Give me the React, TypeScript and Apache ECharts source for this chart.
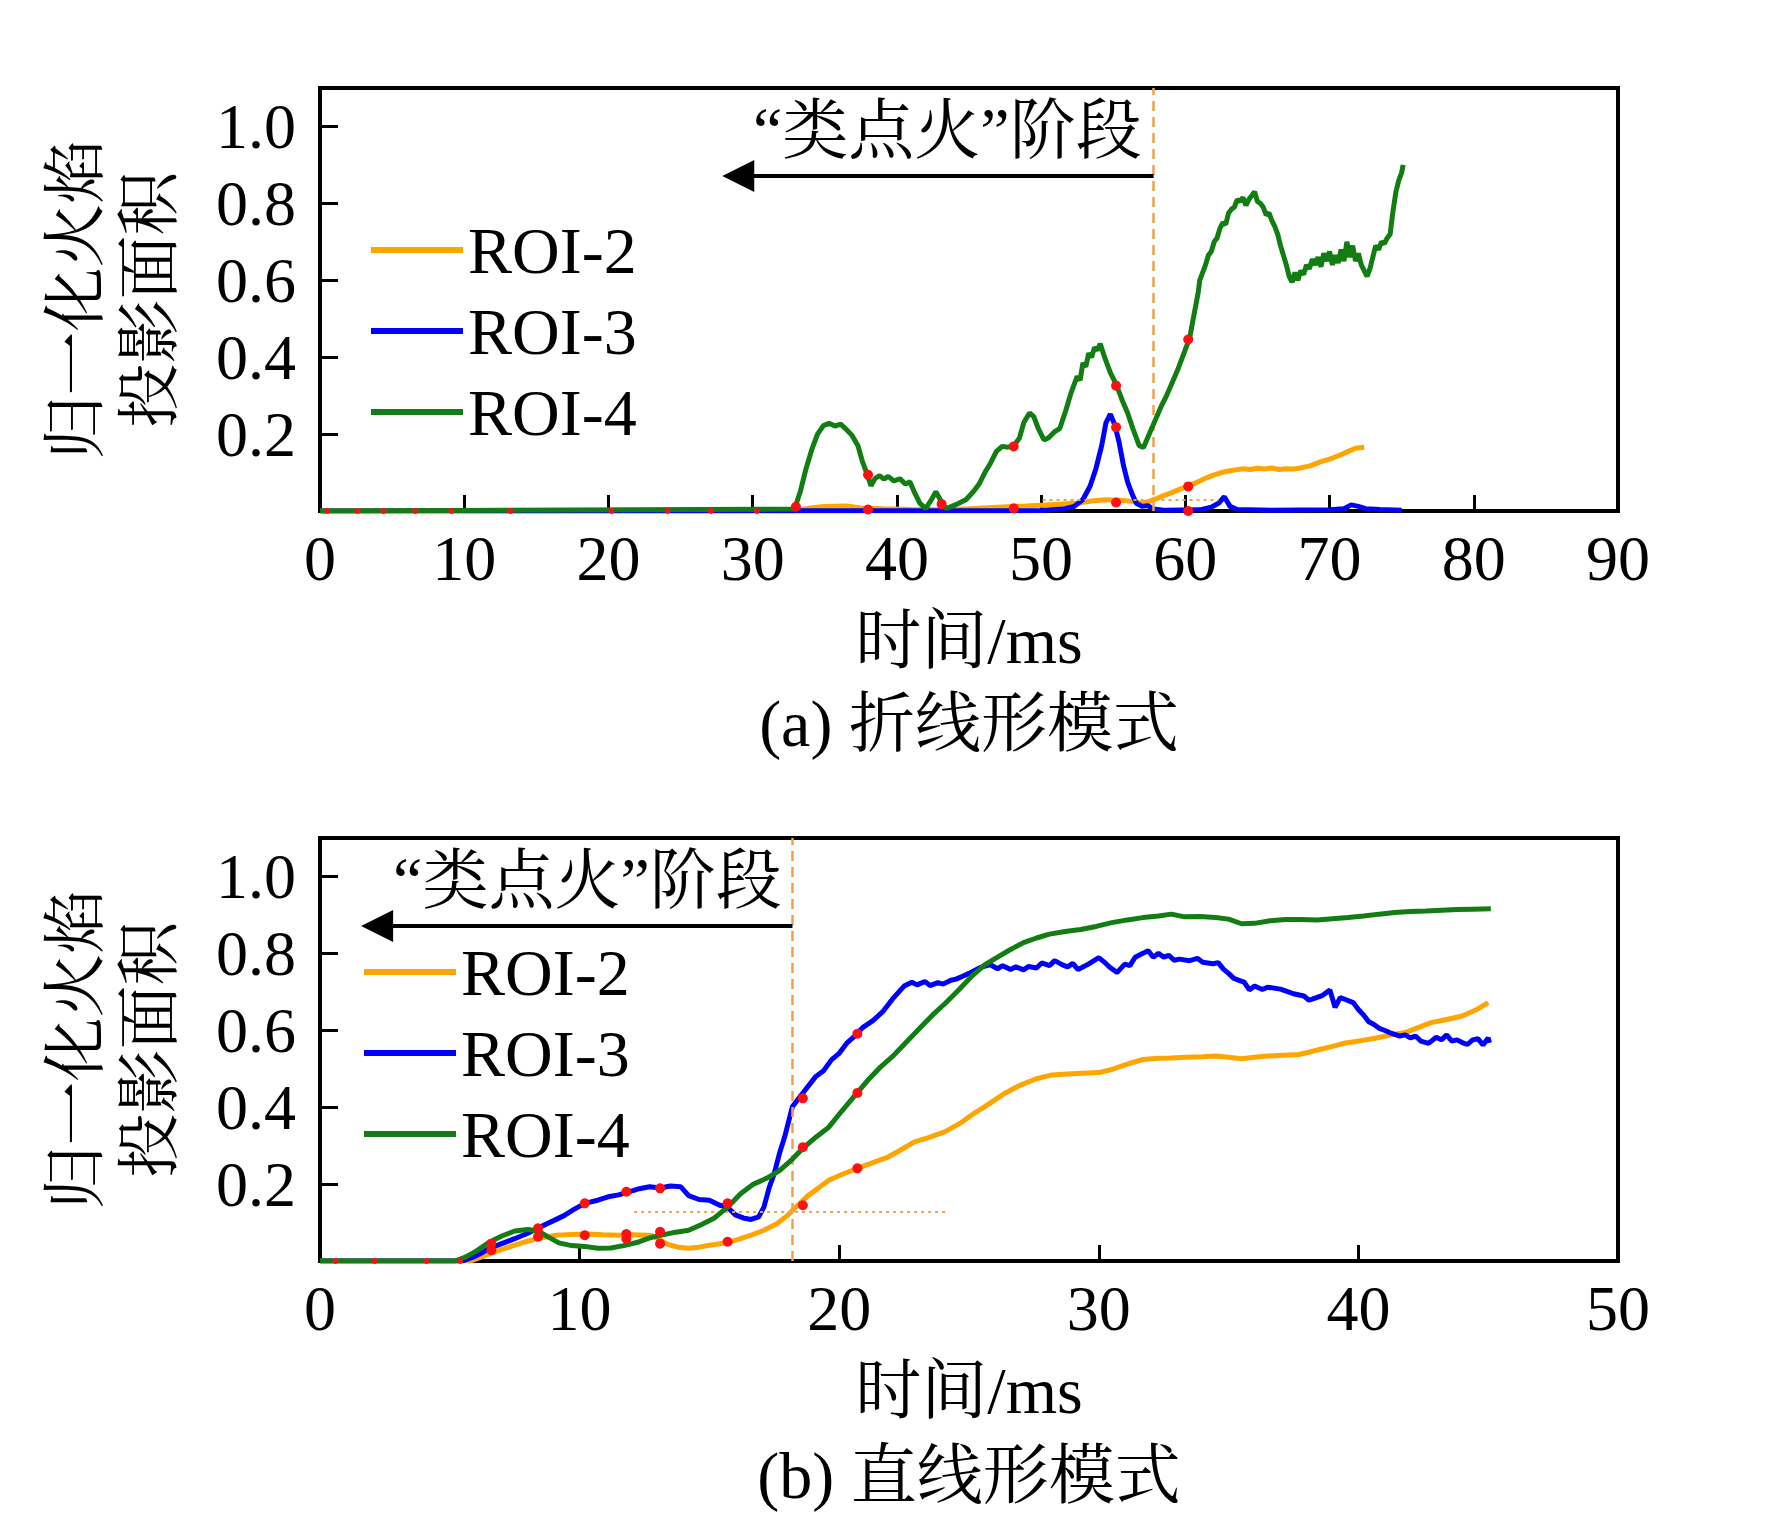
import React, { useEffect, useRef } from "react";
import * as echarts from "echarts";

// ---------- data: panel (a) ----------
const namesTop = ["ROI-2", "ROI-3", "ROI-4"];
const xTicksTop = [0, 90, 10];
const roi2Top: number[][] = [[0,0],[33,0],[34,0.008],[35,0.012],[36.5,0.013],[37.5,0.008],[39,0.006],[41,0.004],[43,0.003],[45,0.006],[47,0.01],[49,0.013],[51,0.017],[52.5,0.02],[53.5,0.026],[54.5,0.029],[55.5,0.028],[56.3,0.025],[57,0.02],[57.5,0.025],[58,0.032],[58.5,0.04],[59,0.047],[59.5,0.055],[60,0.062],[60.5,0.07],[61,0.078],[61.5,0.087],[62,0.094],[62.5,0.1],[63,0.104],[63.5,0.107],[64,0.11],[64.5,0.108],[65,0.111],[65.5,0.109],[66,0.112],[66.5,0.108],[67,0.11],[67.5,0.109],[68,0.112],[68.7,0.118],[69.3,0.127],[70,0.135],[70.7,0.145],[71.3,0.155],[71.8,0.163],[72.4,0.166]];
const roi3Top: number[][] = [[0,0],[50,0.001],[51.5,0.005],[52.3,0.012],[52.9,0.03],[53.4,0.065],[53.8,0.11],[54.2,0.17],[54.5,0.23],[54.8,0.252],[55.1,0.225],[55.4,0.18],[55.7,0.12],[56.0,0.075],[56.3,0.045],[56.6,0.02],[57.0,0.012],[57.4,0.014],[57.8,0.005],[58.5,0.002],[61,0.003],[61.8,0.01],[62.3,0.02],[62.7,0.037],[63.1,0.012],[63.6,0.004],[66,0.002],[70,0.003],[71,0.006],[71.5,0.016],[72,0.012],[72.5,0.006],[73.5,0.004],[75,0.002]];
const roi4Top: number[][] = [[0,0],[32.9,0.005],[33.3,0.05],[33.7,0.11],[34.1,0.16],[34.5,0.2],[34.9,0.222],[35.3,0.228],[35.7,0.221],[36.1,0.226],[36.5,0.212],[36.9,0.196],[37.3,0.17],[37.6,0.13],[37.9,0.1],[38.2,0.066],[38.5,0.085],[38.8,0.092],[39.1,0.083],[39.4,0.09],[39.8,0.078],[40.2,0.084],[40.6,0.07],[40.9,0.076],[41.2,0.05],[41.6,0.02],[42.0,0.006],[42.4,0.03],[42.7,0.05],[43.0,0.03],[43.4,0.006],[43.8,0.012],[44.3,0.02],[44.8,0.03],[45.3,0.05],[45.7,0.07],[46.1,0.1],[46.5,0.125],[46.9,0.155],[47.3,0.168],[47.7,0.166],[48.1,0.17],[48.5,0.19],[48.8,0.23],[49.2,0.255],[49.5,0.245],[49.8,0.215],[50.2,0.185],[50.5,0.19],[50.9,0.205],[51.3,0.215],[51.7,0.26],[52.1,0.31],[52.5,0.35],[52.7,0.34],[52.9,0.385],[53.1,0.375],[53.3,0.41],[53.5,0.4],[53.7,0.425],[53.9,0.418],[54.1,0.435],[54.4,0.4],[54.8,0.36],[55.2,0.33],[55.6,0.29],[56.0,0.255],[56.4,0.21],[56.8,0.17],[57.1,0.165],[57.5,0.2],[57.9,0.235],[58.3,0.27],[58.7,0.3],[59.1,0.335],[59.5,0.37],[59.9,0.41],[60.3,0.45],[60.5,0.49],[60.7,0.53],[60.9,0.57],[61.0,0.6],[61.2,0.62],[61.4,0.64],[61.6,0.665],[61.8,0.675],[62.0,0.7],[62.2,0.71],[62.4,0.735],[62.6,0.75],[62.8,0.745],[63.0,0.775],[63.2,0.785],[63.4,0.79],[63.6,0.81],[63.8,0.805],[64.0,0.815],[64.2,0.795],[64.4,0.81],[64.6,0.82],[64.8,0.83],[65.0,0.805],[65.2,0.8],[65.4,0.79],[65.6,0.77],[65.8,0.775],[66.0,0.755],[66.2,0.74],[66.4,0.72],[66.6,0.69],[66.8,0.665],[67.0,0.64],[67.2,0.61],[67.4,0.595],[67.6,0.62],[67.8,0.6],[68.0,0.625],[68.2,0.615],[68.4,0.64],[68.6,0.63],[68.8,0.655],[69.0,0.64],[69.2,0.66],[69.4,0.635],[69.6,0.67],[69.8,0.65],[70.0,0.675],[70.2,0.64],[70.4,0.665],[70.6,0.645],[70.8,0.68],[71.0,0.65],[71.2,0.7],[71.4,0.66],[71.6,0.69],[71.8,0.65],[72.0,0.67],[72.2,0.64],[72.4,0.625],[72.6,0.61],[72.8,0.63],[73.0,0.66],[73.2,0.69],[73.4,0.68],[73.6,0.7],[73.8,0.695],[74.0,0.71],[74.2,0.72],[74.4,0.78],[74.6,0.83],[74.8,0.86],[75.0,0.88],[75.1,0.9]];
const dotsTopBase: number[][] = [[0.5,0],[2.6,0],[4.4,0],[6.6,0],[9.1,0],[13.2,0],[20.2,0],[24.1,0],[27.1,0],[30.3,0]];
const dotsTop: number[][] = [[33.0,0.011],[38.0,0.094],[38.0,0.004],[43.1,0.018],[48.1,0.168],[48.1,0.007],[55.2,0.326],[55.2,0.218],[55.2,0.022],[60.2,0.064],[60.2,0.446],[60.2,0.0]];
const stageLineTop = 57.8;
const arrowTop = [[57.8, 0.871], [29.0, 0.871]];
const stageTextTop = [43.5, 0.989];
const dottedTop = [[50.1, 0.029], [62.3, 0.029]];

// ---------- data: panel (b) ----------
const xTicksBottom = [0, 50, 10];
const roi2Bottom: number[][] = [[0,0],[5.8,0],[6.2,0.01],[6.7,0.023],[7.3,0.037],[7.9,0.05],[8.5,0.06],[9.1,0.067],[9.7,0.069],[10.3,0.07],[10.9,0.068],[11.5,0.067],[12.1,0.068],[12.8,0.066],[13.1,0.055],[13.4,0.043],[13.8,0.036],[14.2,0.033],[14.6,0.036],[15.0,0.041],[15.4,0.045],[15.8,0.05],[16.2,0.058],[16.6,0.067],[17.1,0.08],[17.6,0.097],[18.0,0.118],[18.4,0.145],[18.8,0.17],[19.2,0.19],[19.6,0.21],[20.1,0.225],[20.7,0.241],[21.3,0.256],[21.9,0.271],[22.4,0.29],[22.9,0.31],[23.5,0.322],[24.1,0.337],[24.7,0.36],[25.2,0.384],[25.8,0.41],[26.4,0.437],[27.0,0.458],[27.6,0.474],[28.2,0.484],[28.8,0.486],[29.4,0.488],[30.0,0.49],[30.5,0.498],[31.1,0.512],[31.7,0.524],[32.3,0.527],[32.8,0.528],[33.4,0.53],[34.0,0.531],[34.5,0.533],[35.0,0.53],[35.5,0.526],[36.0,0.53],[36.5,0.533],[37.1,0.535],[37.7,0.537],[38.1,0.543],[38.5,0.55],[39.0,0.558],[39.5,0.567],[40.1,0.573],[40.7,0.58],[41.2,0.587],[41.8,0.594],[42.3,0.607],[42.8,0.62],[43.4,0.628],[44.0,0.637],[44.5,0.652],[45.0,0.672]];
const roi3Bottom: number[][] = [[0,0],[5.5,0],[5.9,0.01],[6.2,0.02],[6.5,0.032],[7.0,0.045],[7.5,0.058],[8.0,0.072],[8.5,0.089],[9.0,0.105],[9.4,0.118],[9.8,0.135],[10.2,0.15],[10.7,0.158],[11.1,0.167],[11.5,0.172],[11.9,0.18],[12.3,0.188],[12.7,0.193],[13.1,0.19],[13.5,0.195],[13.9,0.193],[14.2,0.17],[14.6,0.16],[15.0,0.158],[15.4,0.145],[15.7,0.14],[16.0,0.12],[16.3,0.112],[16.6,0.108],[16.9,0.115],[17.1,0.14],[17.3,0.19],[17.5,0.228],[17.7,0.28],[17.9,0.323],[18.2,0.402],[18.6,0.437],[19.1,0.48],[19.4,0.495],[19.7,0.523],[20.0,0.54],[20.3,0.567],[20.6,0.585],[20.9,0.607],[21.3,0.625],[21.7,0.65],[22.1,0.685],[22.5,0.715],[22.8,0.725],[23.0,0.718],[23.3,0.727],[23.5,0.716],[23.8,0.724],[24.0,0.72],[24.3,0.73],[24.5,0.733],[24.8,0.742],[25.0,0.748],[25.4,0.762],[25.8,0.771],[26.1,0.76],[26.3,0.768],[26.6,0.758],[26.8,0.765],[27.1,0.757],[27.3,0.766],[27.6,0.762],[27.8,0.775],[28.1,0.768],[28.3,0.781],[28.6,0.77],[28.8,0.765],[29.0,0.774],[29.2,0.758],[29.6,0.772],[30.0,0.789],[30.2,0.778],[30.4,0.765],[30.7,0.75],[31.0,0.772],[31.2,0.768],[31.4,0.79],[31.7,0.8],[31.9,0.807],[32.1,0.79],[32.3,0.8],[32.5,0.79],[32.7,0.795],[32.9,0.782],[33.1,0.785],[33.5,0.781],[33.8,0.787],[34.0,0.777],[34.4,0.773],[34.6,0.776],[34.8,0.759],[35.0,0.748],[35.2,0.735],[35.4,0.73],[35.6,0.725],[35.8,0.705],[36.0,0.715],[36.3,0.706],[36.5,0.712],[37.0,0.707],[37.3,0.7],[37.5,0.695],[37.9,0.689],[38.1,0.678],[38.3,0.683],[38.6,0.69],[38.9,0.705],[39.1,0.66],[39.3,0.685],[39.5,0.68],[39.8,0.672],[40.0,0.654],[40.2,0.64],[40.4,0.622],[40.6,0.615],[40.8,0.605],[41.0,0.6],[41.2,0.594],[41.6,0.585],[41.8,0.588],[42.0,0.58],[42.2,0.585],[42.4,0.572],[42.7,0.566],[43.0,0.582],[43.2,0.575],[43.4,0.588],[43.6,0.572],[43.8,0.575],[44.0,0.568],[44.2,0.563],[44.4,0.575],[44.6,0.578],[44.8,0.562],[45.0,0.58],[45.05,0.567]];
const roi4Bottom: number[][] = [[0,0],[5.2,0],[5.6,0.01],[6.0,0.025],[6.5,0.048],[7.0,0.065],[7.5,0.078],[8.0,0.082],[8.4,0.078],[8.8,0.062],[9.2,0.047],[9.7,0.04],[10.2,0.038],[10.7,0.033],[11.2,0.034],[11.7,0.04],[12.2,0.048],[12.7,0.06],[13.2,0.068],[13.7,0.075],[14.2,0.08],[14.7,0.095],[15.2,0.112],[15.7,0.14],[16.2,0.175],[16.7,0.2],[17.2,0.215],[17.7,0.235],[18.2,0.265],[18.6,0.293],[19.1,0.322],[19.6,0.348],[20.1,0.39],[20.6,0.43],[21.1,0.47],[21.6,0.505],[22.1,0.535],[22.6,0.57],[23.1,0.605],[23.6,0.64],[24.1,0.671],[24.6,0.705],[25.1,0.74],[25.6,0.77],[26.1,0.79],[26.6,0.81],[27.1,0.828],[27.6,0.84],[28.1,0.85],[28.7,0.857],[29.3,0.862],[29.9,0.87],[30.5,0.88],[31.1,0.887],[31.7,0.893],[32.3,0.897],[32.8,0.902],[33.3,0.895],[33.9,0.896],[34.5,0.893],[35.0,0.889],[35.5,0.877],[36.0,0.878],[36.6,0.885],[37.2,0.888],[37.8,0.888],[38.4,0.887],[39.0,0.89],[39.6,0.893],[40.2,0.897],[40.8,0.902],[41.4,0.906],[42.0,0.909],[42.6,0.91],[43.2,0.912],[43.8,0.914],[44.4,0.915],[45.1,0.916]];
const dotsBottomBase: number[][] = [[0.6,0],[2.1,0],[4.1,0],[5.4,0]];
const dotsBottom: number[][] = [[6.6,0.028],[6.6,0.045],[8.4,0.063],[8.4,0.085],[10.2,0.067],[10.2,0.15],[11.8,0.18],[11.8,0.058],[11.8,0.07],[13.1,0.189],[13.1,0.076],[13.1,0.045],[15.7,0.15],[15.7,0.05],[18.6,0.423],[18.6,0.296],[18.6,0.145],[20.7,0.591],[20.7,0.437],[20.7,0.241]];
const stageLineBottom = 18.2;
const arrowBottom = [[18.2, 0.871], [2.2, 0.871]];
const stageTextBottom = [10.3, 0.989];
const dottedBottom = [[12.1, 0.128], [24.2, 0.128]];

const yTicks = [0, 1.1, 0.2];
const stageLabel = "\u201C类点火\u201D阶段";
const yName = "归一化火焰\n投影面积";
const xName = "时间/ms";
const captions = ["(a) 折线形模式", "(b) 直线形模式"];

const colors = ["#FFA500", "#0000FF", "#127D12"];
const FONT = '"Liberation Serif", "Times New Roman", "Noto Serif CJK SC", "Noto Sans CJK SC", serif';
const DASH_COLOR = "#F4A14E";

function App() {
  const ref = useRef<HTMLDivElement>(null);
  useEffect(() => {
    if (!ref.current) return;
    const chart = echarts.init(ref.current, undefined, { renderer: "svg" });

    const grids = [
      { left: 320, top: 88, width: 1298, height: 423 },
      { left: 320, top: 838, width: 1298, height: 423 },
    ];
    const xT = [xTicksTop, xTicksBottom];

    const xAxis = grids.map((_, i) => ({
      type: "value",
      gridIndex: i,
      min: xT[i][0],
      max: xT[i][1],
      interval: xT[i][2],
      name: xName,
      nameLocation: "middle",
      nameGap: 96,
      nameTextStyle: { fontSize: 66, fontFamily: FONT, color: "#000" },
      axisLine: { show: false },
      splitLine: { show: false },
      axisTick: { inside: true, length: 16, lineStyle: { color: "#000", width: 3 } },
      axisLabel: { margin: 15, fontSize: 64, fontFamily: FONT, color: "#000" },
    }));
    const yAxis = grids.map((_, i) => ({
      type: "value",
      gridIndex: i,
      min: yTicks[0],
      max: yTicks[1],
      interval: yTicks[2],
      name: yName,
      nameLocation: "middle",
      nameRotate: 90,
      nameGap: 134,
      nameTextStyle: { fontSize: 64, lineHeight: 74, fontFamily: FONT, color: "#000" },
      axisLine: { show: false },
      splitLine: { show: false },
      axisTick: { inside: true, length: 18, lineStyle: { color: "#000", width: 3 } },
      axisLabel: {
        margin: 24,
        fontSize: 64,
        fontFamily: FONT,
        color: "#000",
        formatter: (v: number) => (v < 0.05 || v > 1.05 ? "" : v.toFixed(1)),
      },
    }));

    const panels = [
      { lines: [roi2Top, roi3Top, roi4Top], base: dotsTopBase, dots: dotsTop, stage: stageLineTop, arrow: arrowTop, text: stageTextTop, dotted: dottedTop },
      { lines: [roi2Bottom, roi3Bottom, roi4Bottom], base: dotsBottomBase, dots: dotsBottom, stage: stageLineBottom, arrow: arrowBottom, text: stageTextBottom, dotted: dottedBottom },
    ];

    const series: any[] = [];
    panels.forEach((p, i) => {
      p.lines.forEach((d, k) => {
        series.push({
          type: "line",
          name: namesTop[k],
          xAxisIndex: i,
          yAxisIndex: i,
          data: d,
          showSymbol: false,
          symbol: "none",
          lineStyle: { color: colors[k], width: 5 },
          itemStyle: { color: colors[k] },
          z: 3 + k,
        });
      });
      series.push({
        type: "scatter",
        name: "dots-base",
        xAxisIndex: i,
        yAxisIndex: i,
        data: p.base,
        symbolSize: 6,
        itemStyle: { color: "#FF1010", opacity: 1 },
        z: 8,
      });
      series.push({
        type: "scatter",
        name: "dots",
        xAxisIndex: i,
        yAxisIndex: i,
        data: p.dots,
        symbolSize: 10,
        itemStyle: { color: "#FF1010", opacity: 1 },
        z: 8,
      });
      series.push({
        type: "scatter",
        name: "annot",
        xAxisIndex: i,
        yAxisIndex: i,
        data: [p.text],
        symbolSize: 1,
        itemStyle: { color: "rgba(0,0,0,0)", opacity: 1 },
        silent: true,
        z: 9,
        label: {
          show: true,
          position: "inside",
          formatter: stageLabel,
          fontSize: 66,
          fontFamily: FONT,
          color: "#000",
          opacity: 1,
          textBorderWidth: 0,
        },
        markLine: {
          silent: true,
          symbol: ["none", "none"],
          label: { show: false },
          animation: false,
          data: [
            { xAxis: p.stage, lineStyle: { color: DASH_COLOR, width: 2.5, type: [10, 6] } },
            [
              { coord: p.dotted[0], lineStyle: { color: DASH_COLOR, width: 2, type: [3, 4] } },
              { coord: p.dotted[1] },
            ],
            [
              { coord: p.arrow[0], symbol: "none", lineStyle: { color: "#000", width: 4, type: "solid" } },
              { coord: p.arrow[1], symbol: "triangle", symbolSize: 32 },
            ],
          ],
        },
      });
    });

    const legendBase = {
      orient: "vertical",
      data: namesTop,
      icon: "rect",
      itemWidth: 92,
      itemHeight: 6,
      itemGap: 15,
      padding: 0,
      textStyle: { fontSize: 66, lineHeight: 64, fontFamily: FONT, color: "#000" },
    };

    chart.setOption({
      animation: false,
      backgroundColor: "#fff",
      grid: grids.map((g) => ({ ...g, show: true, borderColor: "#000", borderWidth: 4, containLabel: false })),
      xAxis,
      yAxis,
      legend: [
        { ...legendBase, left: 371, top: 217 },
        { ...legendBase, left: 364, top: 939 },
      ],
      series,
      graphic: [
        { type: "text", x: 969, y: 723, style: { text: captions[0], fontSize: 66, fontFamily: FONT, fill: "#000", align: "center", verticalAlign: "middle" } },
        { type: "text", x: 969, y: 1475, style: { text: captions[1], fontSize: 66, fontFamily: FONT, fill: "#000", align: "center", verticalAlign: "middle" } },
      ],
    });
    return () => chart.dispose();
  }, []);
  return (
    <div
      ref={ref}
      style={{ position: "absolute", left: 0, top: 0, width: 1772, height: 1520, background: "#fff" }}
    />
  );
}

export default App;
